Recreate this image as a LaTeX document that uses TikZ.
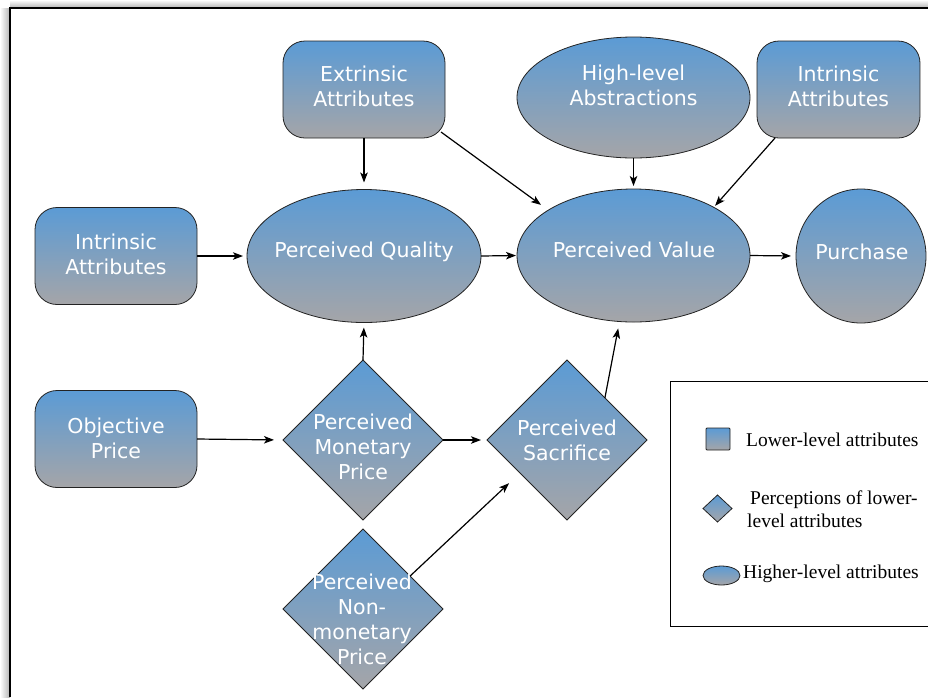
\documentclass[tikz,border=0pt]{standalone}
\usepackage{fontspec}
\setmainfont{DejaVu Sans}
\newfontfamily\legendfont{Liberation Serif}
\usetikzlibrary{shapes.geometric,arrows.meta}
\definecolor{topblue}{RGB}{91,155,213}
\definecolor{botgray}{RGB}{165,165,168}
\definecolor{edgecol}{RGB}{35,35,35}
\begin{document}
\begin{tikzpicture}[x=1pt,y=-1pt,
  grad/.style={top color=topblue,bottom color=botgray,draw=edgecol,line width=0.8pt,inner sep=0pt,outer sep=0pt},
  rbox/.style={grad,rectangle,rounded corners=22pt,minimum width=162pt,minimum height=97pt},
  ell/.style={grad,ellipse},
  dia/.style={grad,diamond,minimum width=160pt,minimum height=160pt},
  txt/.style={text=white,align=center,font=\fontsize{20.5}{25}\selectfont,inner sep=0pt},
  lgd/.style={font=\legendfont\fontsize{19.5}{23}\selectfont,align=left,inner sep=0pt,anchor=west},
  arr/.style={-{Stealth[length=10pt,width=7.5pt,inset=2.5pt]},line width=1.2pt,black}]
\useasboundingbox (0,0) rectangle (928,697);
% frame with shadow
\fill[left color=white,right color=black!30] (0,8) rectangle (10,697);
\fill[top color=white,bottom color=black!30] (10,0) rectangle (928,8);
\draw[line width=1.2pt] (10,697) -- (10,8) -- (928,8);

% shapes
\node[rbox] (ext) at (364,89.5) {};
\node[ell,minimum width=233pt,minimum height=121pt] (hla) at (633.5,97.5) {};
\node[rbox,minimum width=163pt] (int2) at (838.5,89.5) {};
\node[rbox] (int1) at (116,256) {};
\node[ell,minimum width=234pt,minimum height=133pt] (pq) at (364,256) {};
\node[ell,minimum width=233pt,minimum height=133pt] (pv) at (633.5,255.5) {};
\node[ell,minimum width=130pt,minimum height=134pt] (pur) at (861,256) {};
\node[rbox] (op) at (116,439) {};
\node[dia] (pmp) at (363,440) {};
\node[dia] (ps) at (567,440) {};
\node[dia] (pnmp) at (363,609) {};

% texts
\node[txt] (extT) at (364,86.5) {Extrinsic\\Attributes};
\node[txt] (hlaT) at (633.5,85.5) {High-level\\Abstractions};
\node[txt] (int2T) at (838.5,86.5) {Intrinsic\\Attributes};
\node[txt] (int1T) at (116,254.5) {Intrinsic\\Attributes};
\node[txt] (pqT) at (364,252) {Perceived Quality};
\node[txt] (pvT) at (634,250) {Perceived Value};
\node[txt] (purT) at (862,252) {Purchase};
\node[txt] (opT) at (116,438) {Objective\\Price};
\node[txt] (pmpT) at (363,447) {Perceived\\Monetary\\Price};
\node[txt] (psT) at (567,440) {Perceived\\Sacrifice};
\node[txt] (pnmpT) at (362,619.5) {Perceived\\Non-\\monetary\\Price};

% connectors
\draw[arr,shorten >=7pt] (ext.south) -- (pq.north);
\draw[arr,shorten >=9pt] ([xshift=-4pt,yshift=6pt]ext.south east) -- (pv.152.6);
\draw[arr,shorten >=3pt] (hla.south) -- (hla.south |- pv.north);
\draw[arr,shorten >=2pt] ([xshift=18pt]int2.south west) -- (pv.31);
\draw[arr,shorten >=4pt] (int1.east) -- (pq.west);
\draw[arr,shorten >=1pt] (pq.east) -- (pv.west);
\draw[arr,shorten >=5pt] (pv.east) -- (pur.west);
\draw[arr,shorten >=5pt] (pmp.north) -- (pq.south);
\draw[arr,shorten >=9pt] (op.east) -- (pmp.west);
\draw[arr,shorten >=6pt] (pmp.east) -- (ps.west);
\draw[arr,shorten >=7pt] (ps.48) -- (pv.258);
\draw[arr,shorten >=15pt] (pnmp.35) -- (ps.215);

% legend
\draw[line width=1pt] (928,381) -- (670,381) -- (670,626) -- (928,626);
\node[grad,rectangle,rounded corners=1pt,minimum width=24pt,minimum height=22pt] (lsq) at (718,439) {};
\node[lgd] (lsqT) at (746,440) {Lower-level attributes};
\node[grad,diamond,minimum width=29pt,minimum height=27pt] (ldia) at (717.5,508.5) {};
\node[lgd] (ldiaT) at (747,509) {\hspace{3pt}Perceptions of lower-\\level attributes};
\node[grad,ellipse,minimum width=37pt,minimum height=19pt] (lell) at (721.5,575.5) {};
\node[lgd] (lellT) at (743,574) {Higher-level attributes};
\end{tikzpicture}
\end{document}
